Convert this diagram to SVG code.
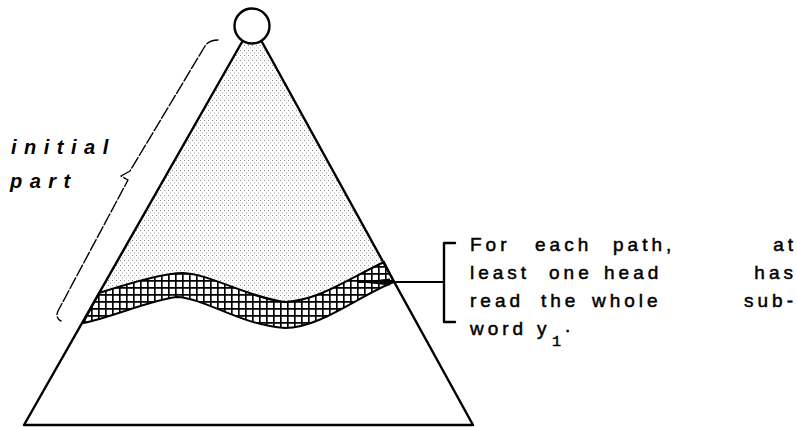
<svg xmlns="http://www.w3.org/2000/svg" width="797" height="427" viewBox="0 0 797 427">
<style>
.ln{fill:none;stroke:#000;stroke-width:2.4;stroke-linejoin:round;stroke-linecap:round}
.thin{fill:none;stroke:#000;stroke-width:1.4;stroke-linecap:round;stroke-linejoin:round;stroke-dasharray:12 2.5}
.lbl{font-family:"Liberation Sans",Arial,sans-serif;font-size:19px;fill:#000;stroke:#000;stroke-width:0.5;letter-spacing:4px}
.end{text-anchor:end;letter-spacing:0}
.sub{font-family:"Liberation Mono","Courier New",monospace;font-size:15px;fill:#000;stroke:#000;stroke-width:0.5}
.it{font-family:"Liberation Sans",Arial,sans-serif;font-size:20px;font-weight:bold;font-style:italic;fill:#000;letter-spacing:7.5px}
</style>
<defs>
<pattern id="stip" width="4" height="5" patternUnits="userSpaceOnUse">
<rect x="0" y="0" width="1" height="1" fill="#8a8a8a"/>
<rect x="2" y="2.5" width="1" height="1" fill="#a8a8a8"/>
</pattern>
<pattern id="hatch" width="7" height="7" patternUnits="userSpaceOnUse">
<rect width="7" height="7" fill="#fff"/>
<path d="M0 0.8H7M0.8 0V7" stroke="#000" stroke-width="1.7"/>
</pattern>
<marker id="ah" markerWidth="32" markerHeight="8" refX="32" refY="4" orient="auto" markerUnits="userSpaceOnUse">
<path d="M32 4 L0 0.5 L0 7.5 Z" fill="#000"/>
</marker>
</defs>
<g id="tree">
<path d="M242 42 L99 293 C130 283 165 273 183 273 C210 274 250 298 285 302 C320 300 350 278 384 262 L262 42 Z" fill="url(#stip)"/>
<path d="M99 293 C130 283 165 273 183 273 C210 274 250 298 285 302 C320 300 350 278 384 262 L394 282 C360 295 320 328 285 328 C240 325 205 298 177 297 C150 300 110 318 83 323 Z" fill="url(#hatch)" stroke="#000" stroke-width="2"/>
<path class="ln" d="M242 42 L24 425 L473 425 L262 42"/>
</g>
<g id="root">
<circle cx="252" cy="26" r="17.5" fill="#fff" stroke="#000" stroke-width="2.4"/>
</g>
<g id="initial-part">
<path class="thin" d="M218 40 Q209 40 205 46 L130 171 L121 176 L128 180 L58 311 Q55 318 61 321"/>
<text class="it" x="11" y="154">initial</text>
<text class="it" x="10" y="188">part</text>
</g>
<g id="note">
<path class="ln" d="M455 243 L444 243 L444 322 L455 322" stroke-width="2"/>
<text class="lbl" y="251"><tspan x="470">For</tspan><tspan x="535">each</tspan><tspan x="613">path,</tspan></text>
<text class="lbl end" x="793" y="251">a<tspan dx="4">t</tspan></text>
<text class="lbl" y="279"><tspan x="470">least</tspan><tspan x="549">one</tspan><tspan x="604">head</tspan></text>
<text class="lbl end" x="793" y="279">h<tspan dx="4">a</tspan><tspan dx="4">s</tspan></text>
<text class="lbl" y="307"><tspan x="470">read</tspan><tspan x="541">the</tspan><tspan x="592">whole</tspan></text>
<text class="lbl end" x="793" y="307">s<tspan dx="4">u</tspan><tspan dx="4">b</tspan><tspan dx="4">-</tspan></text>
<text class="lbl" x="470" y="335">word</text>
<text class="lbl" x="537" y="335">y</text>
<text class="sub" x="552" y="346">1</text>
<text class="lbl" x="565" y="332">.</text>
</g>
<g id="connectors">
<path d="M444 282 L358 282" stroke="#000" stroke-width="2" fill="none" marker-end="url(#ah)"/>
</g>
</svg>
